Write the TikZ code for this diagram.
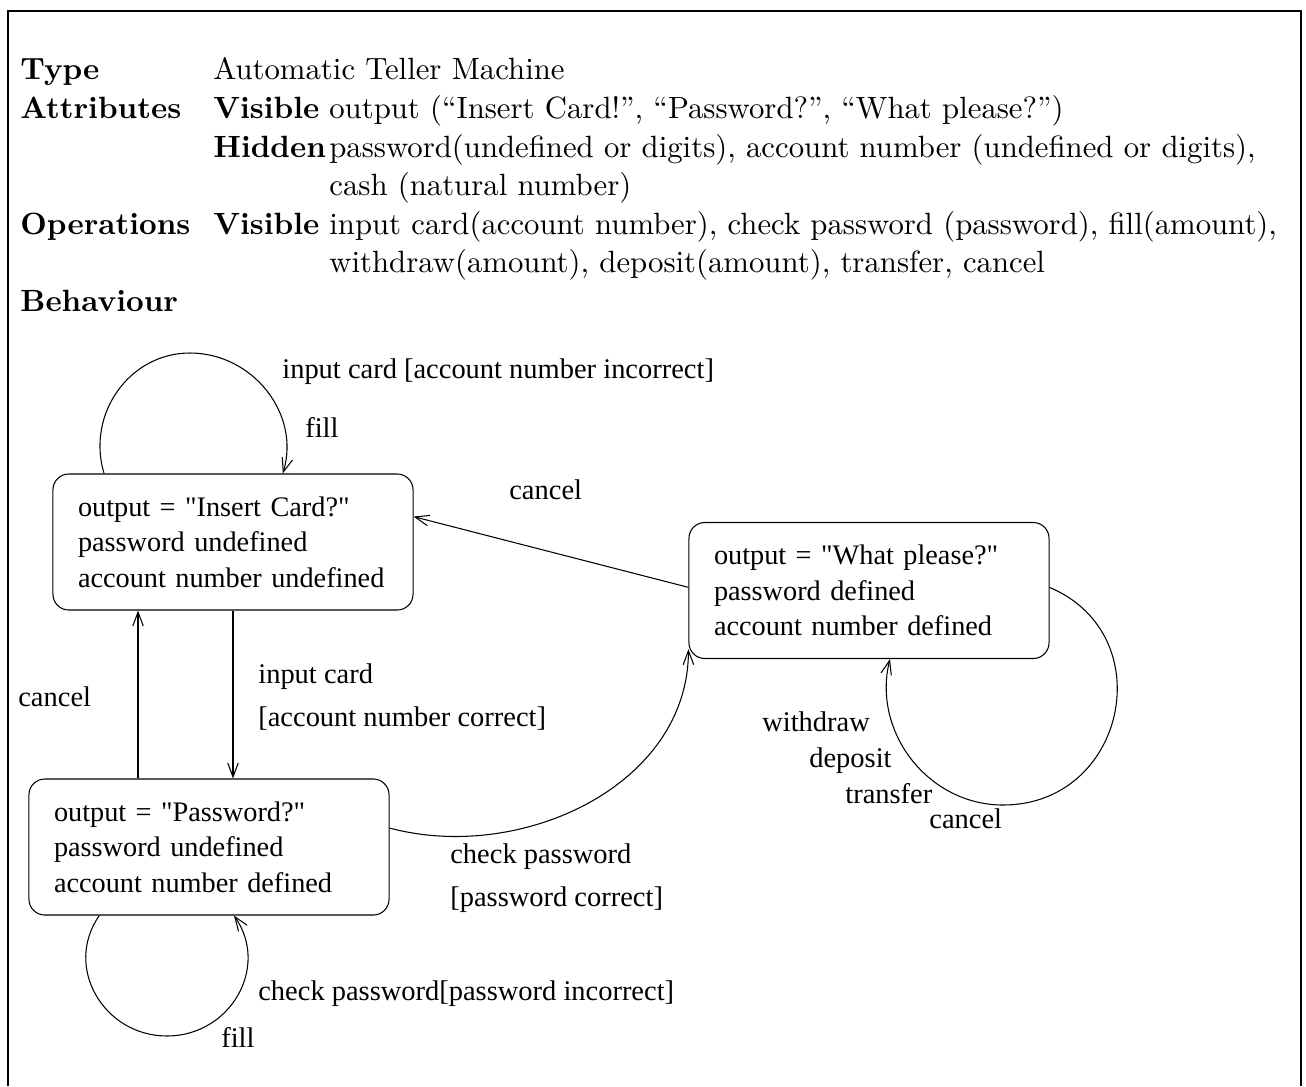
\documentclass[tikz,border=0pt]{standalone}
\usepackage{fontspec}
\setmainfont{lmroman10-regular.otf}[BoldFont=lmroman10-bold.otf]
\newfontfamily\diafont{Liberation Serif}[Ligatures=TeXOff]
\usetikzlibrary{arrows.meta}

\tikzset{
  state/.style={rounded corners=9pt, draw, line width=0.6pt,
    minimum width=204.9pt, minimum height=77.4pt, text width=176.4pt,
    align=left, inner xsep=14.2pt,
    font=\diafont\fontsize{16.1pt}{20.2pt}\selectfont},
  lbl/.style={anchor=west, inner sep=0pt, text height=12pt, text depth=1.5pt,
    font=\diafont\fontsize{16.2pt}{20.2pt}\selectfont},
  hd/.style={anchor=west, inner sep=0pt, text height=13pt, text depth=3pt,
    font=\fontsize{17.5pt}{22pt}\selectfont},
  hdb/.style={hd, font=\fontsize{17.5pt}{22pt}\selectfont\bfseries},
  trans/.style={line width=0.6pt, -{Straight Barb[length=8pt, width=6pt]}},
}

\begin{document}
\begin{tikzpicture}[x=0.2mm, y=0.2mm]
  \useasboundingbox (0,0) rectangle (1306,-1086);
  \draw[line width=1.6pt] (8,-1086) |- (1301,-11) -- (1301,-1086);

  % header
  \node[hdb] (type) at (20,-71) {Type};
  \node[hd] (typev) at (213,-71) {Automatic Teller Machine};
  \node[hdb] (attr) at (20,-110) {Attributes};
  \node[hdb] (attrvis) at (213,-110) {Visible};
  \node[hd] (attrv) at (329,-110) {output (``Insert Card!'', ``Password?'', ``What please?'')};
  \node[hdb] (attrhid) at (213,-149) {Hidden};
  \node[hd] (hid1) at (329,-149) {password(undefined or digits), account number (undefined or digits),};
  \node[hd] (hid2) at (329,-187) {cash (natural number)};
  \node[hdb] (ops) at (20,-226) {Operations};
  \node[hdb] (opsvis) at (213,-226) {Visible};
  \node[hd] (ops1) at (329,-226) {input card(account number), check password (password), fill(amount),};
  \node[hd] (ops2) at (329,-264) {withdraw(amount), deposit(amount), transfer, cancel};
  \node[hdb] (beh) at (20,-303) {Behaviour};

  % states
  \node[state] (ins) at (233,-542) {output = "Insert Card?"\\ password undefined\\ account number undefined};
  \node[state] (pwd) at (209,-847) {output = "Password?"\\ password undefined\\ account number defined};
  \node[state] (what) at (869,-590.5) {output = "What please?"\\ password defined\\ account number defined};

  % turning points of the self loops
  \coordinate (insloop) at (190,-353);
  \coordinate (pwdloop) at (167,-1036);
  \coordinate (whatloop) at (1003,-805);

  % transitions
  \draw[trans] (ins.152.6) to[out=107, in=180, looseness=1.06] (insloop)
    to[out=0, in=73, looseness=1.05] (ins.54.6);
  \draw[trans] (what.179) -- (ins.8.5);
  \draw[trans] (ins.south) -- (ins.south |- pwd.north);
  \draw[trans] (pwd.136.6) -- (pwd.136.6 |- ins.south);
  \draw[trans] (pwd.6) to[out=-15, in=-90] (what.198);
  \draw[trans] (pwd.212.4) to[out=235, in=180, looseness=1.17] (pwdloop)
    to[out=0, in=-55, looseness=1.17] (pwd.-70.6);
  \draw[trans] (what.1) to[out=-23, in=0, looseness=1.41] (whatloop)
    to[out=180, in=-104, looseness=1.04] (what.-73);

  % labels
  \node[lbl] (incorrect) at (282,-369) {input card [account number incorrect]};
  \node[lbl] (fillA) at (305,-428) {fill};
  \node[lbl] (cancelA) at (509,-490) {cancel};
  \node[lbl] (inputB) at (258,-674) {input card};
  \node[lbl] (correct) at (258,-717) {[account number correct]};
  \node[lbl] (cancelB) at (18,-697) {cancel};
  \node[lbl] (withdraw) at (762,-722) {withdraw};
  \node[lbl] (deposit) at (809,-758) {deposit};
  \node[lbl] (transfer) at (845,-794) {transfer};
  \node[lbl] (cancelC) at (929,-819) {cancel};
  \node[lbl] (checkA) at (450,-854) {check password};
  \node[lbl] (pwcorrect) at (450,-897) {[password correct]};
  \node[lbl] (checkB) at (258,-991) {check password[password incorrect]};
  \node[lbl] (fillB) at (221,-1038) {fill};
\end{tikzpicture}
\end{document}
